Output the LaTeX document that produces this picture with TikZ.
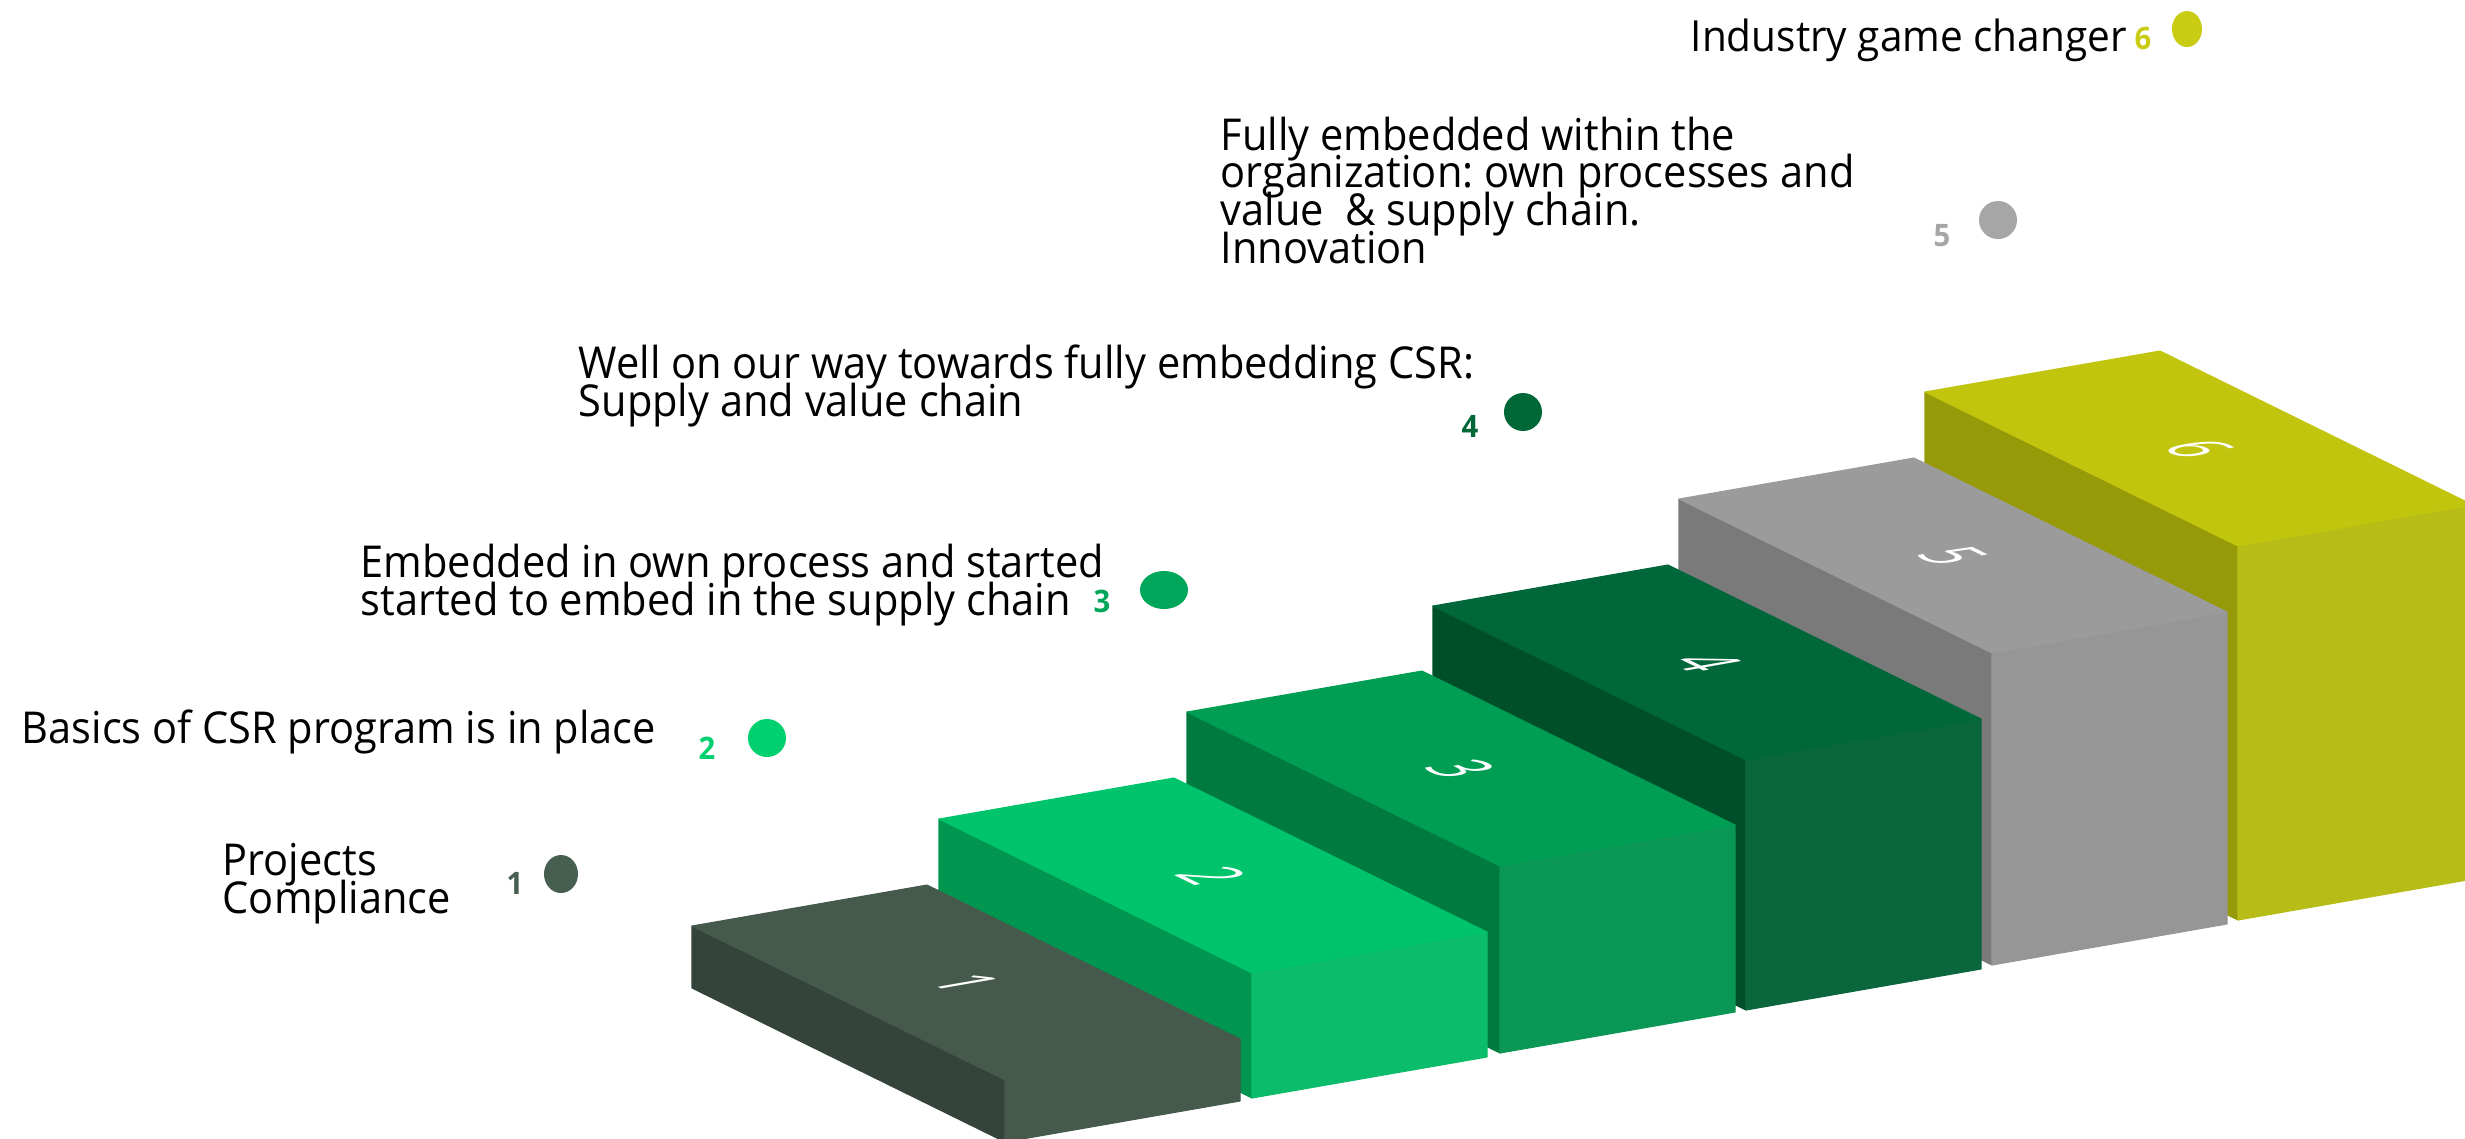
\documentclass[tikz,border=0pt]{standalone}
\usepackage{fontspec}
\setmainfont[FakeStretch=0.945]{Open Sans}
\newfontfamily\opensans{Open Sans}
\usetikzlibrary{shapes.geometric}
\frenchspacing
\newcommand\lblfont{\fontsize{12.5}{10.67}\selectfont\lineskiplimit=-50pt\relax}
\newcommand\lblfontsm{\fontsize{12.2}{10.67}\selectfont\lineskiplimit=-50pt\relax}
\definecolor{s1t}{HTML}{455A4C}\definecolor{s1l}{HTML}{34443A}\definecolor{s1f}{HTML}{46594D}
\definecolor{s2t}{HTML}{00C46B}\definecolor{s2l}{HTML}{009650}\definecolor{s2f}{HTML}{0BBD6A}
\definecolor{s3t}{HTML}{009E53}\definecolor{s3l}{HTML}{007A3F}\definecolor{s3f}{HTML}{0A9654}
\definecolor{s4t}{HTML}{00673A}\definecolor{s4l}{HTML}{004F2B}\definecolor{s4f}{HTML}{0A673D}
\definecolor{s5t}{HTML}{9B9B9B}\definecolor{s5l}{HTML}{7A7A7A}\definecolor{s5f}{HTML}{969696}
\definecolor{s6t}{HTML}{C1C50E}\definecolor{s6l}{HTML}{979A08}\definecolor{s6f}{HTML}{B7BC16}
\definecolor{d1}{HTML}{465F50}\definecolor{d2}{HTML}{00D070}\definecolor{d3}{HTML}{00A65A}
\definecolor{d4}{HTML}{006837}\definecolor{d5}{HTML}{A6A6A6}\definecolor{d6}{HTML}{C9CC12}
\begin{document}
\begin{tikzpicture}[x=0.01cm,y=-0.01cm,
  lbl/.style={anchor=base west, align=left, inner sep=0, font=\lblfont},
  num/.style={anchor=base, inner sep=0, font=\fontsize{8.8}{8.8}\selectfont\bfseries},
  dot/.style={ellipse, inner sep=0, draw=none},
  face/.style={fill=#1, draw=#1, line width=0.3pt, line join=round},
  topnum/.style={inner sep=0, text=white, font=\opensans\fontsize{22}{22}\selectfont,
    cm={0.56,-0.275,0.987,0.172,(0,0)}}]
\useasboundingbox (0,0) rectangle (2465,1138);
\fill[white] (0,0) rectangle (2465,1138);
% steps, back to front
\foreach \i/\fx/\fy/\h in {6/2238/546/374,5/1992/653/312,4/1746/760/250,3/1500/866/187,2/1252/973/125,1/1005/1080/62}{
  \path[face=s\i l] (\fx-313,\fy-154) -- (\fx,\fy) -- (\fx,\fy+\h) -- (\fx-313,\fy-154+\h) -- cycle;
  \path[face=s\i f] (\fx,\fy) -- (\fx+235,\fy-41) -- (\fx+235,\fy-41+\h) -- (\fx,\fy+\h) -- cycle;
  \path[face=s\i t] (\fx-313,\fy-154) -- (\fx-78,\fy-195) -- (\fx+235,\fy-41) -- (\fx,\fy) -- cycle;
  \node[topnum] (top\i) at (\fx-39,\fy-97) {\i};
}
% labels (base = baseline of last line)
\node[lbl, font=\lblfontsm] (t6) at (1690,51) {Industry game changer};
\node[lbl] (t5) at (1220,263) {Fully embedded within the\\organization: own processes and\\value\ \ \& supply chain.\\Innovation};
\node[lbl] (t4) at (578,416) {Well on our way towards fully embedding CSR:\\Supply and value chain};
\node[lbl] (t3) at (360,615) {Embedded in own process and started\\started to embed in the supply chain};
\node[lbl] (t2) at (21,743) {Basics of CSR program is in place};
\node[lbl] (t1) at (222,913) {Projects\\Compliance};
% small numbers
\node[num, text=d6] (n6) at (2143,49) {6};
\node[num, text=d5] (n5) at (1942,246) {5};
\node[num, text=d4] (n4) at (1470,437) {4};
\node[num, text=d3] (n3) at (1102,612) {3};
\node[num, text=d2] (n2) at (707,759) {2};
\node[num, text=d1] (n1) at (515,894) {1};
% dots
\node[dot, fill=d6, minimum width=0.30cm, minimum height=0.36cm] (c6) at (2187,29) {};
\node[dot, fill=d5, minimum width=0.38cm, minimum height=0.38cm] (c5) at (1998,220) {};
\node[dot, fill=d4, minimum width=0.38cm, minimum height=0.38cm] (c4) at (1523,412) {};
\node[dot, fill=d3, minimum width=0.48cm, minimum height=0.38cm] (c3) at (1164,590) {};
\node[dot, fill=d2, minimum width=0.38cm, minimum height=0.38cm] (c2) at (767,738) {};
\node[dot, fill=d1, minimum width=0.34cm, minimum height=0.38cm] (c1) at (561,874) {};
\end{tikzpicture}
\end{document}
